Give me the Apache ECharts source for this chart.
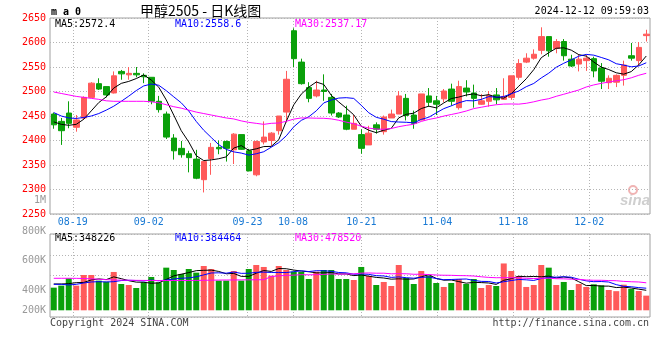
<!DOCTYPE html>
<html><head><meta charset="utf-8">
<script src="https://cdn.jsdelivr.net/npm/echarts/dist/echarts.min.js"></script>
<style>html,body{margin:0;padding:0;background:#fff}#c{width:660px;height:360px}</style>
</head><body><div id="c"></div>
<script>
const dates = ['08-14','08-15','08-16','08-19','08-20','08-21','08-22','08-23','08-26','08-27','08-28','08-29','08-30',
'09-02','09-03','09-04','09-05','09-06','09-09','09-10','09-11','09-12','09-13','09-18','09-19','09-20','09-23','09-24','09-25','09-26','09-27','09-30',
'10-08','10-09','10-10','10-11','10-14','10-15','10-16','10-17','10-18','10-21','10-22','10-23','10-24','10-25','10-28','10-29','10-30','10-31',
'11-01','11-04','11-05','11-06','11-07','11-08','11-11','11-12','11-13','11-14','11-15','11-18','11-19','11-20','11-21','11-22','11-25','11-26','11-27','11-28','11-29',
'12-02','12-03','12-04','12-05','12-06','12-09','12-10','12-11','12-12'];
const open  = [2454,2439,2456,2427,2446,2488,2516,2510,2497,2541,2534,2537,2533,2529,2480,2454,2405,2384,2373,2362,
2320,2363,2386,2398,2381,2412,2379,2330,2397,2400,2420,2458,2624,2560,2508,2491,2503,2488,2456,2452,
2423,2412,2391,2432,2418,2446,2454,2486,2452,2442,2491,2481,2485,2505,2467,2507,2497,2474,2480,2493,
2484,2488,2529,2560,2568,2584,2612,2588,2602,2566,2556,2563,2567,2548,2518,2519,2533,2573,2563,2614];
const close = [2432,2420,2435,2442,2488,2517,2505,2493,2532,2536,2537,2534,2530,2480,2463,2407,2379,2371,2365,2323,
2357,2386,2383,2384,2413,2382,2338,2398,2407,2415,2450,2525,2567,2516,2486,2503,2500,2456,2448,2423,
2435,2384,2415,2423,2448,2454,2491,2451,2435,2495,2478,2474,2501,2480,2510,2499,2486,2481,2492,2483,
2490,2532,2557,2568,2576,2612,2583,2602,2573,2552,2566,2568,2542,2521,2527,2533,2554,2568,2590,2617];
const low   = [2424,2391,2425,2418,2442,2488,2503,2488,2496,2524,2524,2529,2517,2474,2457,2403,2361,2365,2335,2321,
2294,2330,2372,2357,2352,2381,2337,2327,2392,2389,2412,2437,2550,2514,2478,2488,2481,2451,2446,2421,
2423,2373,2391,2414,2412,2446,2454,2441,2424,2441,2469,2452,2478,2471,2463,2490,2467,2473,2469,2474,
2483,2483,2524,2558,2565,2576,2571,2578,2563,2550,2541,2542,2529,2505,2505,2509,2512,2563,2552,2602];
const high  = [2457,2446,2480,2452,2490,2519,2527,2510,2541,2544,2550,2550,2537,2529,2491,2459,2413,2399,2379,2381,
2358,2395,2400,2400,2415,2412,2383,2400,2439,2417,2450,2542,2629,2567,2519,2522,2535,2495,2458,2471,
2452,2423,2430,2437,2451,2463,2501,2495,2461,2495,2507,2491,2505,2516,2522,2523,2514,2495,2501,2507,
2527,2532,2566,2578,2586,2631,2612,2607,2607,2575,2576,2575,2571,2558,2533,2535,2563,2599,2601,2626];
const volume = [394,429,556,429,614,614,516,498,667,458,440,388,487,580,487,742,701,632,719,655,
771,719,516,516,684,516,719,788,754,603,771,701,672,667,545,672,701,701,545,545,
527,754,597,440,493,423,788,562,458,684,597,475,406,475,545,458,545,388,440,423,
815,684,597,406,440,788,742,440,493,353,458,406,452,435,353,333,446,371,336,255].map(v => v * 1000);
// moving-average values before enough history exists
const ma5Head  = [2438,2433,2431,2433];
const ma10Head = [2457,2450,2446,2445,2447,2450,2455,2462,2470];
const ma30Head = [2499,2496,2493,2490,2488,2486,2484,2481,2480,2480,2480,2480,2480,2479,2477,2473,2469,2466,2462,2458,
2455,2452,2449,2446,2444,2440,2437,2435,2433];
const vma5Head  = [458000,458000,464000,481000];
const vma10Head = [452000,452000,441000,452000,475000,493000,498000,493000,498000];
const vma30Head = [557000,557000,557000,556000,553000,548000,540000,533000,528000,525000,523000,521000,520000,519000,518000,
518000,518000,518000,519000,520000,522000,524000,526000,527000,528000,529000,530000,531000,532000];
const labelIdx = [3,13,26,32,41,51,61,71];
const priceLegend = ['MA5:2572.4','MA10:2558.6','MA30:2537.17'];
const volLegend = ['MA5:348226','MA10:384464','MA30:478520'];
const volTickLabels = ['1M','800K','600K','400K','200K'];

function ma(arr, n, head) {
  const out = [];
  for (let i = 0; i < arr.length; i++) {
    if (i < n - 1) { out.push(head[i]); continue; }
    let s = 0; for (let j = i - n + 1; j <= i; j++) s += arr[j];
    out.push(+(s / n).toFixed(2));
  }
  return out;
}
const kdata = open.map((o, i) => [o, close[i], low[i], high[i]]);
const RED = '#ff5a5a', GREEN = '#0aa00a';
const MONO = 'DejaVu Sans Mono';
const dotted = {color: '#b4b4b4', type: [1, 2], width: 1};
const isLabel = (i) => labelIdx.indexOf(i) >= 0;
const pxPerVol = 1 / 17400;
const volMin = -6.7 / pxPerVol, volMax = 76.3 / pxPerVol;

const legendColors = ['#000000', '#0000ff', '#ff00ff'];
const legendX = [55, 175, 295];
const graphic = [];
function txt(x, y, text, fill, font, align) {
  graphic.push({type: 'text', x: x, y: y, silent: true,
    style: {text: text, fill: fill, font: font, textAlign: align || 'left', align: align || 'left',
            textVerticalAlign: 'middle', verticalAlign: 'middle'}});
}
txt(51, 12, 'm a 0', '#000', 'bold 10px ' + MONO);
txt(140, 11, '甲醇2505 - 日K线图', '#000', '14px "Noto Sans CJK SC"');
txt(649, 11.5, '2024-12-12 09:59:03', '#000', '10px ' + MONO, 'right');
priceLegend.forEach((t, i) => txt(legendX[i], 24, t, legendColors[i], '10px ' + MONO));
volLegend.forEach((t, i) => txt(legendX[i], 238.5, t, legendColors[i], '10px ' + MONO));
const volLabelY = [200, 231.5, 260.5, 290, 310.5];
volTickLabels.forEach((t, i) => txt(46, volLabelY[i], t, '#999', '10px ' + MONO, 'right'));
txt(50, 323.5, 'Copyright 2024 SINA.COM', '#444', '10px ' + MONO);
txt(649, 323.5, 'http://finance.sina.com.cn', '#444', '10px ' + MONO, 'right');
txt(635, 201, 'sina', '#cfcfcf', 'italic bold 15px "Liberation Sans"', 'center');
graphic.push({type: 'circle', shape: {cx: 633, cy: 190, r: 4}, silent: true, style: {fill: 'none', stroke: '#f0b4b4', lineWidth: 2}});

const chart = echarts.init(document.getElementById('c'), null, {renderer: 'canvas'});
chart.setOption({
  animation: false,
  backgroundColor: '#fff',
  graphic: graphic,
  grid: [
    {left: 50, top: 18, width: 600, height: 196, show: true, borderColor: '#a0a0a0', borderWidth: 1},
    {left: 50, top: 234, width: 600, height: 83, show: true, borderColor: '#a0a0a0', borderWidth: 1}
  ],
  xAxis: [
    {type: 'category', gridIndex: 0, data: dates, boundaryGap: true, show: false},
    {type: 'category', gridIndex: 0, data: dates, boundaryGap: false, position: 'bottom',
      axisLine: {show: false}, axisTick: {show: false},
      axisLabel: {interval: isLabel, color: '#1a7ad4', fontFamily: MONO, fontSize: 10, margin: 3},
      splitLine: {show: true, interval: isLabel, lineStyle: dotted}},
    {type: 'category', gridIndex: 1, data: dates, boundaryGap: true, show: false},
    {type: 'category', gridIndex: 1, data: dates, boundaryGap: false, position: 'bottom',
      axisLine: {show: false}, axisTick: {show: false}, axisLabel: {show: false},
      splitLine: {show: true, interval: isLabel, lineStyle: dotted}}
  ],
  yAxis: [
    {type: 'value', gridIndex: 0, min: 2250, max: 2650, interval: 50,
      axisLine: {show: false}, axisTick: {show: false},
      axisLabel: {color: '#ff0000', fontFamily: MONO, fontSize: 10, margin: 4, padding: [0, 0, 5, 0],
                  formatter: (v) => String(v)},
      splitLine: {show: true, lineStyle: dotted}},
    {type: 'value', gridIndex: 1, min: volMin, max: volMax, show: false, splitLine: {show: false}},
    {type: 'value', gridIndex: 1, min: 0, max: 4, interval: 1,
      axisLine: {show: false}, axisTick: {show: false}, axisLabel: {show: false},
      splitLine: {show: true, lineStyle: dotted}}
  ],
  series: [
    {type: 'candlestick', xAxisIndex: 0, yAxisIndex: 0, data: kdata, barWidth: 6,
      itemStyle: {color: RED, color0: GREEN, borderColor: RED, borderColor0: GREEN, borderWidth: 1}},
    {type: 'line', xAxisIndex: 0, yAxisIndex: 0, data: ma(close, 5, ma5Head), symbol: 'none', lineStyle: {color: '#000', width: 1}},
    {type: 'line', xAxisIndex: 0, yAxisIndex: 0, data: ma(close, 10, ma10Head), symbol: 'none', lineStyle: {color: '#0000ff', width: 1}},
    {type: 'line', xAxisIndex: 0, yAxisIndex: 0, data: ma(close, 30, ma30Head), symbol: 'none', lineStyle: {color: '#ff00ff', width: 1}},
    {type: 'bar', xAxisIndex: 2, yAxisIndex: 1, barWidth: 6,
      data: volume.map((v, i) => ({value: v, itemStyle: {color: close[i] >= open[i] ? RED : GREEN}}))},
    {type: 'line', xAxisIndex: 2, yAxisIndex: 1, data: ma(volume, 5, vma5Head), symbol: 'none', lineStyle: {color: '#000', width: 1}},
    {type: 'line', xAxisIndex: 2, yAxisIndex: 1, data: ma(volume, 10, vma10Head), symbol: 'none', lineStyle: {color: '#0000ff', width: 1}},
    {type: 'line', xAxisIndex: 2, yAxisIndex: 1, data: ma(volume, 30, vma30Head), symbol: 'none', lineStyle: {color: '#ff00ff', width: 1}}
  ]
});
</script></body></html>
